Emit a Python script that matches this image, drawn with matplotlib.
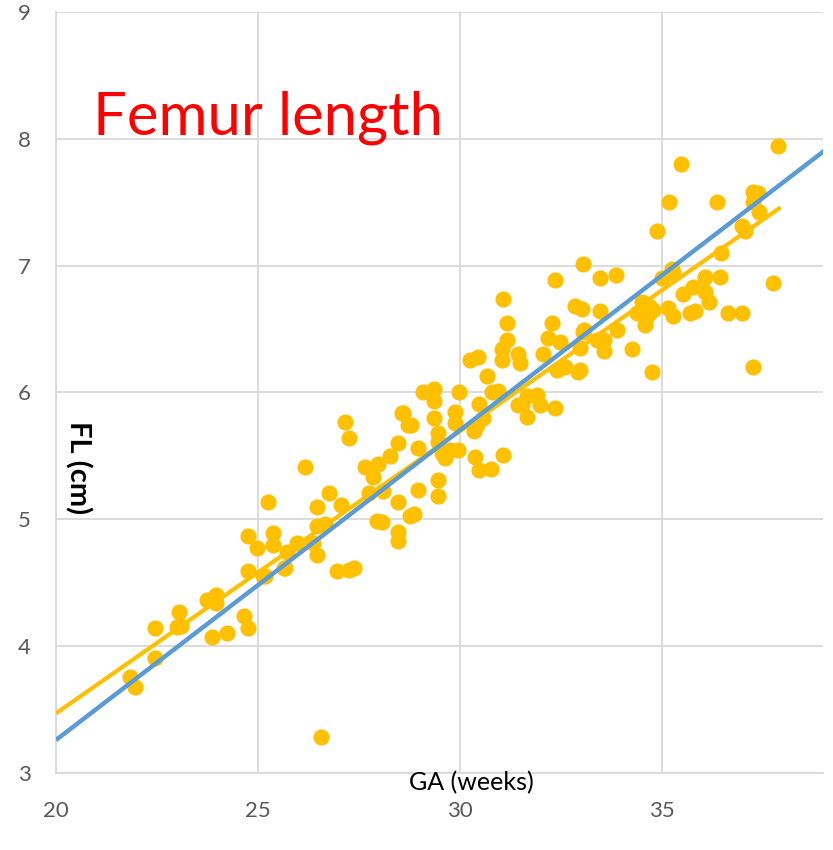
import matplotlib.pyplot as plt

# gestational age (weeks) and femur length (cm)
ga = [
    21.83, 21.96, 22.45, 22.45, 23.05, 23.0, 23.1, 23.87, 24.24, 23.74,
    23.97, 23.97, 24.66, 24.76, 24.76, 25.13, 25.65, 26.57,
    27.16, 27.26, 26.17, 25.25, 28.57, 28.72, 28.48, 28.28, 27.98, 27.66,
    27.86, 27.76, 28.10, 28.48, 26.77, 26.47, 27.06, 28.77, 27.96, 28.08,
    28.48, 28.48, 26.47, 26.67, 24.76, 24.98, 25.38, 25.38, 25.72, 25.97,
    26.37, 26.47, 25.68, 25.18, 26.96, 27.26, 27.39,
    30.68, 29.10, 29.37, 29.37, 29.99, 30.81, 30.96, 31.45, 31.67, 30.48,
    28.60, 28.80, 29.37, 29.89, 29.89, 30.58, 30.43, 30.36, 29.47, 29.47,
    28.97, 29.57, 29.77, 29.96, 29.64, 30.38, 31.08, 30.48, 30.78, 29.47,
    29.47, 28.97, 28.87,
    32.37, 33.06, 31.08, 32.86, 33.03, 31.18, 32.29, 31.18, 31.05, 31.05,
    32.19, 32.49, 32.07, 31.45, 31.50, 30.46, 30.26, 33.06, 32.99, 32.99,
    32.94, 32.41, 32.61, 31.67, 31.92, 31.55, 32.0, 32.37,
    33.48, 33.88, 33.48, 33.90, 33.09, 33.41, 33.58, 33.58, 34.28, 35.02,
    35.29, 35.17, 35.29, 34.80, 34.60, 34.40, 34.52, 34.77, 34.65, 34.70,
    37.89, 35.49, 35.19, 36.38, 37.27, 37.40, 37.27, 37.42, 37.0, 37.08,
    34.89, 36.48, 35.27, 36.08, 36.46, 37.77, 36.08, 35.79, 35.54, 36.18,
    36.65, 37.0, 35.71, 35.84, 37.27,
]
fl = [
    3.76, 3.68, 3.91, 4.14, 4.27, 4.15, 4.16, 4.07, 4.10, 4.36,
    4.40, 4.34, 4.24, 4.14, 4.59, 4.55, 4.62, 3.28,
    5.77, 5.64, 5.41, 5.14, 5.84, 5.74, 5.60, 5.50, 5.44, 5.41,
    5.33, 5.21, 5.22, 5.14, 5.21, 5.10, 5.11, 5.03, 4.99, 4.98,
    4.90, 4.83, 4.95, 4.96, 4.87, 4.77, 4.89, 4.80, 4.74, 4.81,
    4.81, 4.72, 4.62, 4.55, 4.59, 4.60, 4.62,
    6.13, 6.00, 6.03, 5.93, 6.00, 6.00, 6.01, 5.90, 5.81, 5.91,
    5.84, 5.74, 5.80, 5.85, 5.76, 5.80, 5.74, 5.70, 5.68, 5.61,
    5.56, 5.52, 5.55, 5.55, 5.48, 5.49, 5.51, 5.39, 5.40, 5.31,
    5.18, 5.23, 5.04,
    6.89, 7.01, 6.74, 6.68, 6.66, 6.55, 6.55, 6.41, 6.34, 6.26,
    6.43, 6.40, 6.30, 6.30, 6.23, 6.28, 6.26, 6.48, 6.35, 6.18,
    6.16, 6.18, 6.20, 5.97, 5.98, 5.90, 5.90, 5.88,
    6.90, 6.93, 6.64, 6.49, 6.49, 6.41, 6.41, 6.33, 6.34, 6.90,
    6.94, 6.67, 6.60, 6.65, 6.53, 6.63, 6.71, 6.16, 6.60, 6.68,
    7.94, 7.80, 7.50, 7.50, 7.58, 7.57, 7.50, 7.42, 7.31, 7.27,
    7.27, 7.10, 6.97, 6.91, 6.91, 6.86, 6.79, 6.83, 6.78, 6.71,
    6.63, 6.63, 6.63, 6.64, 6.20,
]

# trend lines (end points)
fit_x = [20, 37.95]
fit_y = [3.47, 7.46]
ref_x = [20, 39.5]
ref_y = [3.26, 8.02]

fig = plt.figure(figsize=(8.33, 8.5), dpi=100)
ax = fig.add_axes([0.0672, 0.0906, 0.9208, 0.8953])

ax.scatter(ga, fl, s=135, color="#FFC000", zorder=3, linewidths=0)
ax.plot(fit_x, fit_y, color="#FFC000", lw=3.0, zorder=4, solid_capstyle="butt")
ax.plot(ref_x, ref_y, color="#5B9BD5", lw=3.2, zorder=5, solid_capstyle="butt")

ax.set_xlim(20, 39)
ax.set_ylim(3, 9)
ax.set_xticks([20, 25, 30, 35])
ax.set_yticks([3, 4, 5, 6, 7, 8, 9])
ax.grid(True, color="#D9D9D9", lw=1.3, zorder=0)
ax.set_axisbelow(True)
for side in ["top", "right"]:
    ax.spines[side].set_visible(False)
for side in ["left", "bottom"]:
    ax.spines[side].set_color("#D9D9D9")
    ax.spines[side].set_linewidth(1.3)
ax.tick_params(length=0, labelsize=16, labelcolor="#595959")
ax.tick_params(axis="x", pad=20)
ax.tick_params(axis="y", pad=18)
for lab in ax.get_xticklabels() + ax.get_yticklabels():
    lab.set_family("Lato")

ax.text(0.048, 0.861, "Femur length", transform=ax.transAxes, color="#FF0000",
        fontsize=43, family="Lato", ha="left", va="center")
ax.text(0.0287, 0.402, "FL (cm)", transform=ax.transAxes, rotation=-90,
        fontsize=21, fontweight="bold", family="Lato", ha="center", va="center")
ax.text(0.541, -0.013, "GA (weeks)", transform=ax.transAxes, fontsize=18,
        family="Lato", ha="center", va="center", clip_on=False)

fig.savefig("out.png", dpi=100)
